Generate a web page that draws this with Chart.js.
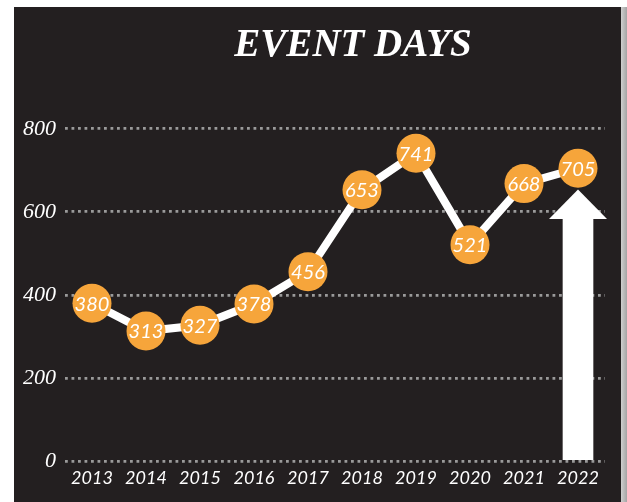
<!DOCTYPE html>
<html>
<head>
<meta charset="utf-8">
<script src="https://cdn.jsdelivr.net/npm/chart.js@4"></script>
<style>
html,body{margin:0;padding:0;background:#fff;}
#wrap{width:627px;height:502px;position:relative;}
</style>
</head>
<body>
<div id="wrap"><canvas id="c"></canvas></div>
<script>
const years = ['2013','2014','2015','2016','2017','2018','2019','2020','2021','2022'];
const eventDays = [380, 313, 327, 378, 456, 653, 741, 521, 668, 705];
const arrowBase = [null, null, null, null, null, null, null, null, null, 584];
const arrowTip = [null, null, null, null, null, null, null, null, null, 654];
const yTicks = [0, 200, 400, 600, 800];
const titleText = 'EVENT DAYS';

const PANEL = '#231f20';
const ORANGE = '#f6a53b';

const panelPlugin = {
  id: 'panel',
  beforeDraw(chart) {
    const ctx = chart.ctx;
    ctx.save();
    ctx.fillStyle = '#ffffff';
    ctx.fillRect(0, 0, chart.width, chart.height);
    ctx.fillStyle = PANEL;
    ctx.fillRect(14, 7, 607, chart.height - 7);
    const g = ctx.createLinearGradient(621, 0, 627, 0);
    g.addColorStop(0, '#cfcfcf');
    g.addColorStop(1, '#a4a4a4');
    ctx.fillStyle = g;
    ctx.fillRect(621, 7, 6, chart.height - 7);
    ctx.restore();
  },
  afterLayout(chart) {
    if (chart.titleBlock) {
      chart.titleBlock.left += 18;
      chart.titleBlock.right += 18;
    }
  }
};

const arrowPlugin = {
  id: 'arrowHead',
  afterDatasetsDraw(chart) {
    const meta = chart.getDatasetMeta(0);
    const y = chart.scales.y;
    const ctx = chart.ctx;
    ctx.save();
    ctx.fillStyle = '#ffffff';
    meta.data.forEach((bar, i) => {
      if (arrowTip[i] == null) return;
      const baseY = bar.y;
      const tipY = y.getPixelForValue(arrowTip[i]);
      ctx.beginPath();
      ctx.moveTo(bar.x - 29, baseY + 0.5);
      ctx.lineTo(bar.x + 29, baseY + 0.5);
      ctx.lineTo(bar.x, tipY);
      ctx.closePath();
      ctx.fill();
    });
    ctx.restore();
  }
};

const labelPlugin = {
  id: 'pointLabels',
  afterDatasetsDraw(chart) {
    const meta = chart.getDatasetMeta(1);
    const ctx = chart.ctx;
    ctx.save();
    ctx.fillStyle = '#ffffff';
    ctx.font = 'italic 20px Lato';
    ctx.textAlign = 'center';
    ctx.textBaseline = 'middle';
    meta.data.forEach((pt, i) => {
      ctx.fillText(String(eventDays[i]), pt.x, pt.y + 1);
    });
    ctx.restore();
  }
};

new Chart(document.getElementById('c'), {
  data: {
    labels: years,
    datasets: [
      {
        type: 'bar',
        data: arrowBase,
        backgroundColor: '#ffffff',
        barThickness: 30,
        order: 2
      },
      {
        type: 'line',
        data: eventDays,
        borderColor: '#ffffff',
        borderWidth: 8,
        pointRadius: 19.5,
        pointHoverRadius: 19.5,
        pointBackgroundColor: ORANGE,
        pointBorderWidth: 0,
        tension: 0,
        clip: false,
        order: 1
      }
    ]
  },
  options: {
    responsive: true,
    maintainAspectRatio: false,
    animation: false,
    events: [],
    layout: { padding: { left: 0, right: 22, top: 0, bottom: 0 } },
    plugins: {
      legend: { display: false },
      tooltip: { enabled: false },
      title: {
        display: true,
        text: titleText,
        fullSize: false,
        color: '#ffffff',
        font: { family: 'Liberation Serif', size: 39, style: 'italic', weight: 'bold' },
        padding: { top: 23, bottom: 59 }
      }
    },
    scales: {
      x: {
        type: 'category',
        offset: true,
        grid: { display: false, drawTicks: false },
        border: { display: false },
        ticks: {
          color: '#ffffff',
          font: { family: 'Lato', size: 18, style: 'italic' },
          padding: 6,
          maxRotation: 0
        },
        afterFit(scale) { scale.height = 41; }
      },
      y: {
        min: 0,
        max: 800,
        afterBuildTicks(scale) { scale.ticks = yTicks.map(v => ({ value: v })); },
        grid: { color: '#9a9a9a', lineWidth: 2.8, drawTicks: false },
        border: { display: false, dash: [2.8, 3.7] },
        ticks: {
          color: '#ffffff',
          font: { family: 'Liberation Serif', size: 22, style: 'italic' },
          padding: 9
        },
        afterFit(scale) { scale.width = 65; }
      }
    }
  },
  plugins: [panelPlugin, arrowPlugin, labelPlugin]
});
</script>
</body>
</html>
